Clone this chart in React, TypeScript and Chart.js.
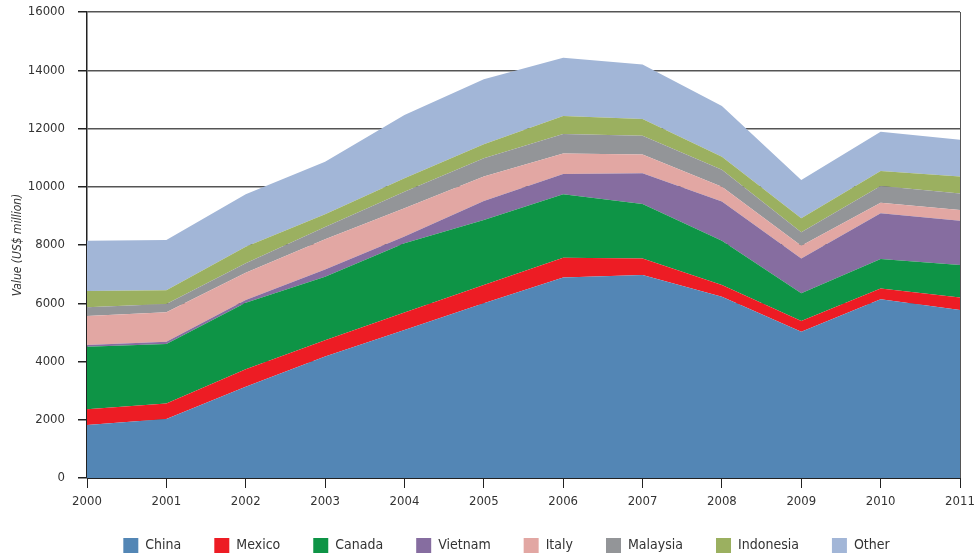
import React, { useEffect, useRef } from "react";
import { Chart, registerables } from "chart.js";

Chart.register(...registerables);

const years = ["2000", "2001", "2002", "2003", "2004", "2005", "2006", "2007", "2008", "2009", "2010", "2011"];
const china = [1820, 2030, 3130, 4170, 5080, 6000, 6880, 6970, 6220, 5020, 6140, 5770];
const mexico = [540, 530, 600, 560, 600, 630, 680, 570, 410, 370, 370, 430];
const canada = [2150, 2040, 2290, 2180, 2380, 2230, 2180, 1870, 1520, 950, 1010, 1110];
const vietnam = [60, 80, 90, 250, 230, 650, 700, 1050, 1340, 1200, 1570, 1520];
const italy = [990, 1010, 940, 1040, 970, 840, 700, 650, 510, 430, 360, 370];
const malaysia = [300, 280, 320, 420, 570, 630, 670, 640, 580, 470, 580, 570];
const indonesia = [560, 480, 570, 440, 460, 480, 620, 580, 450, 480, 510, 580];
const other = [1730, 1720, 1800, 1800, 2170, 2230, 2000, 1870, 1740, 1310, 1350, 1260];

const seriesNames = ["China", "Mexico", "Canada", "Vietnam", "Italy", "Malaysia", "Indonesia", "Other"];
const seriesValues = [china, mexico, canada, vietnam, italy, malaysia, indonesia, other];
const seriesColors = ["#5386b5", "#ed1c24", "#0e9446", "#866da0", "#e2a7a3", "#939598", "#9bb060", "#a2b6d7"];

const FONT = "'Liberation Sans Narrow', 'DejaVu Sans Condensed', 'Roboto Condensed', sans-serif";

const LEGEND_RESERVED = 50;
const LEGEND_TOP = 505;
const LEGEND_LEFT = 38;

const legendPlacePlugin = {
  id: "legendPlace",
  beforeInit(chart: any) {
    const legend = chart.legend;
    if (!legend) return;
    const origFit = legend.fit;
    legend.fit = function () {
      origFit.call(this);
      this.height = LEGEND_RESERVED;
    };
  },
  afterLayout(chart: any) {
    const legend = chart.legend;
    if (!legend) return;
    legend.top = LEGEND_TOP;
    legend.bottom = chart.height;
    legend.height = chart.height - LEGEND_TOP;
    legend.left = LEGEND_LEFT;
    legend.width = legend.right - LEGEND_LEFT;
  },
};

export default function App() {
  const ref = useRef<HTMLCanvasElement>(null);
  useEffect(() => {
    document.body.style.margin = "0";
    const ctx = ref.current!.getContext("2d")!;
    const chart = new Chart(ctx, {
      type: "line",
      data: {
        labels: years,
        datasets: seriesNames.map((name, i) => ({
          label: name,
          data: seriesValues[i],
          backgroundColor: seriesColors[i],
          borderColor: seriesColors[i],
          borderWidth: 0,
          pointRadius: 0,
          fill: i === 0 ? "origin" : "-1",
          tension: 0,
        })),
      },
      plugins: [legendPlacePlugin],
      options: {
        responsive: false,
        animation: false,
        layout: { padding: { left: 0, right: 0, top: 12, bottom: 0 } },
        plugins: {
          tooltip: { enabled: false },
          legend: {
            position: "bottom",
            labels: {
              boxWidth: 15,
              boxHeight: 15,
              padding: 33,
              color: "#333",
              font: { family: FONT, size: 14 },
            },
          },
        },
        scales: {
          x: {
            offset: false,
            grid: {
              drawOnChartArea: true,
              color: (c: any) => (c.index === 11 ? "#555" : "rgba(0,0,0,0)"),
              tickColor: "#222",
              tickLength: 10,
            },
            border: { color: "#222", width: 1 },
            ticks: { color: "#333", font: { family: FONT, size: 13 }, padding: 6, maxRotation: 0 },
            afterFit: (s: any) => {
              s.height = 32;
              s.paddingLeft = 0;
              s.paddingRight = 15;
            },
          },
          y: {
            stacked: true,
            min: 0,
            max: 16000,
            ticks: {
              stepSize: 2000,
              color: "#333",
              font: { family: FONT, size: 13 },
              padding: 13,
              callback: (v: any) => String(v),
            },
            grid: { color: "#555", tickColor: "#222", tickLength: 9, lineWidth: 1.5 },
            border: { color: "#222", width: 1.5 },
            title: {
              display: true,
              text: "Value (US$ million)",
              color: "#333",
              font: { family: FONT, size: 12, style: "italic" },
              padding: { top: 11, bottom: 0 },
            },
            afterFit: (s: any) => {
              s.width = 87;
              s.paddingTop = 0;
              s.paddingBottom = 0;
            },
          },
        },
      },
    });
    return () => chart.destroy();
  }, []);
  return <canvas ref={ref} width={975} height={560} style={{ display: "block" }} />;
}
